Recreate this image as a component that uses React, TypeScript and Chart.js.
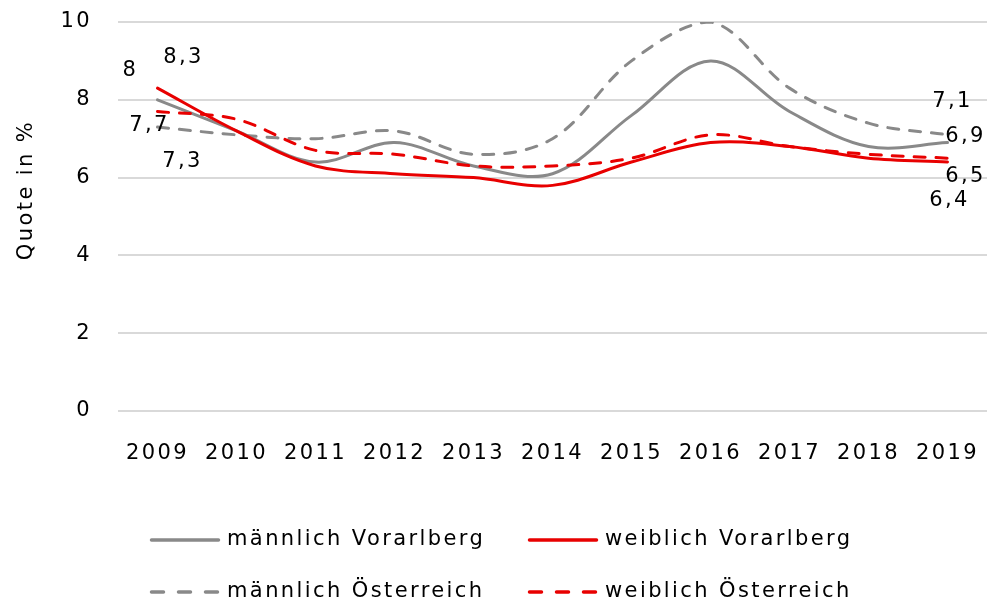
import React, { useEffect, useRef } from "react";
import { Chart, registerables } from "chart.js";

Chart.register(...registerables);

// ---------- data ----------
const years = ["2009", "2010", "2011", "2012", "2013", "2014", "2015", "2016", "2017", "2018", "2019"];
const maleVorarlberg = [8.0, 7.2, 6.4, 6.9, 6.3, 6.1, 7.6, 9.0, 7.7, 6.8, 6.9];
const femaleVorarlberg = [8.3, 7.2, 6.3, 6.1, 6.0, 5.8, 6.4, 6.9, 6.8, 6.5, 6.4];
const maleAustria = [7.3, 7.1, 7.0, 7.2, 6.6, 7.0, 9.0, 10.0, 8.3, 7.4, 7.1];
const femaleAustria = [7.7, 7.5, 6.7, 6.6, 6.3, 6.3, 6.5, 7.1, 6.8, 6.6, 6.5];
const seriesNames = ["männlich Vorarlberg", "weiblich Vorarlberg", "männlich Österreich", "weiblich Österreich"];
const yTicks = [0, 2, 4, 6, 8, 10];
const yTitle = "Quote in %";

// which data points carry a value label (dataset index, point index) and label offset in px
const valueLabels = [
  { ds: 0, i: 0, dx: -27, dy: -29 },
  { ds: 1, i: 0, dx: 26, dy: -31 },
  { ds: 3, i: 0, dx: -8, dy: 14 },
  { ds: 2, i: 0, dx: 25, dy: 35 },
  { ds: 2, i: 10, dx: 5, dy: -33 },
  { ds: 0, i: 10, dx: 18, dy: -6 },
  { ds: 3, i: 10, dx: 18, dy: 18 },
  { ds: 1, i: 10, dx: 2, dy: 39 },
];

// ---------- styles ----------
const GREY = "rgb(137,137,137)";
const RED = "rgb(232,0,0)";
const FONT_FAMILY = "'DejaVu Sans', sans-serif";
const FONT_SIZE = 21;
const LETTER_SPACING = "2.4px";
const PLOT_DASH = [11, 11];
const LEGEND_DASH = [12, 15];

const fmt = (v: number) => String(v).replace(".", ",");

const legendItems = [
  { label: seriesNames[0], color: GREY, dashed: false, col: 0, row: 0 },
  { label: seriesNames[1], color: RED, dashed: false, col: 1, row: 0 },
  { label: seriesNames[2], color: GREY, dashed: true, col: 0, row: 1 },
  { label: seriesNames[3], color: RED, dashed: true, col: 1, row: 1 },
];
const legendCols = [150, 528];
const legendRows = [540, 592];
const legendLineLen = 70;
const legendTextGap = 7;

const customPlugin = {
  id: "customDecor",
  beforeUpdate(chart: any) {
    chart.ctx.letterSpacing = LETTER_SPACING;
  },
  beforeDraw(chart: any) {
    chart.ctx.letterSpacing = LETTER_SPACING;
  },
  afterDatasetsDraw(chart: any) {
    const ctx = chart.ctx;
    ctx.save();
    ctx.letterSpacing = LETTER_SPACING;
    ctx.font = `${FONT_SIZE}px ${FONT_FAMILY}`;
    ctx.fillStyle = "#000";
    ctx.textAlign = "center";
    ctx.textBaseline = "middle";
    for (const l of valueLabels) {
      const meta = chart.getDatasetMeta(l.ds);
      const pt = meta.data[l.i];
      const v = chart.data.datasets[l.ds].data[l.i];
      ctx.fillText(fmt(v), pt.x + l.dx, pt.y + l.dy);
    }
    ctx.restore();
  },
  afterDraw(chart: any) {
    const ctx = chart.ctx;
    ctx.save();
    ctx.letterSpacing = LETTER_SPACING;
    ctx.font = `${FONT_SIZE}px ${FONT_FAMILY}`;
    ctx.fillStyle = "#000";
    // y axis title
    ctx.save();
    ctx.translate(27, 190);
    ctx.rotate(-Math.PI / 2);
    ctx.textAlign = "center";
    ctx.textBaseline = "middle";
    ctx.fillText(yTitle, 0, 0);
    ctx.restore();
    // legend
    for (const it of legendItems) {
      const x = legendCols[it.col];
      const y = legendRows[it.row];
      ctx.save();
      ctx.strokeStyle = it.color;
      ctx.lineWidth = 3.5;
      ctx.lineCap = "round";
      ctx.setLineDash(it.dashed ? LEGEND_DASH : []);
      ctx.beginPath();
      ctx.moveTo(x + 1.5, y);
      ctx.lineTo(x + legendLineLen - 1.5, y);
      ctx.stroke();
      ctx.restore();
      ctx.textAlign = "left";
      ctx.textBaseline = "middle";
      ctx.fillText(it.label, x + legendLineLen + legendTextGap, y);
    }
    ctx.restore();
  },
};

export default function App() {
  const canvasRef = useRef<HTMLCanvasElement | null>(null);

  useEffect(() => {
    if (!canvasRef.current) return;
    const mk = (label: string, data: number[], color: string, dashed: boolean, order: number) => ({
      label,
      data,
      order,
      borderColor: color,
      backgroundColor: color,
      borderWidth: 3,
      borderDash: dashed ? PLOT_DASH : [],
      borderCapStyle: "round",
      pointRadius: 0,
      pointHoverRadius: 0,
      tension: 0.35,
      fill: false,
    });
    const chart = new Chart(canvasRef.current, {
      type: "line",
      data: {
        labels: years,
        datasets: [
          mk(seriesNames[0], maleVorarlberg, GREY, false, 2),
          mk(seriesNames[1], femaleVorarlberg, RED, false, 0),
          mk(seriesNames[2], maleAustria, GREY, true, 3),
          mk(seriesNames[3], femaleAustria, RED, true, 1),
        ] as any,
      },
      options: {
        animation: false,
        responsive: true,
        maintainAspectRatio: false,
        devicePixelRatio: 1,
        events: [],
        layout: { padding: { top: 22, right: 0, bottom: 0, left: 0 } },
        plugins: {
          legend: { display: false },
          tooltip: { enabled: false },
          title: { display: false },
        },
        scales: {
          x: {
            type: "category",
            offset: true,
            grid: { display: false, drawTicks: false },
            border: { display: false },
            ticks: {
              color: "#000",
              font: { family: FONT_FAMILY, size: FONT_SIZE },
              padding: 30,
              maxRotation: 0,
              autoSkip: false,
            },
            afterFit: (scale: any) => {
              scale.height = 193;
              scale.paddingLeft = 0;
              scale.paddingRight = 0;
            },
          },
          y: {
            min: 0,
            max: 10,
            grid: { color: "#d9d9d9", lineWidth: 2, drawTicks: false },
            border: { display: false },
            ticks: {
              color: "#000",
              font: { family: FONT_FAMILY, size: FONT_SIZE },
              padding: 26,
            },
            afterBuildTicks: (scale: any) => {
              scale.ticks = yTicks.map((v) => ({ value: v }));
            },
            afterFit: (scale: any) => {
              scale.width = 118;
              scale.paddingTop = 0;
              scale.paddingBottom = 0;
            },
          },
        },
      },
      plugins: [customPlugin],
    } as any);
    return () => chart.destroy();
  }, []);

  return (
    <div style={{ position: "fixed", left: 0, top: 0, width: 987, height: 604, background: "#fff" }}>
      <canvas ref={canvasRef} />
    </div>
  );
}
